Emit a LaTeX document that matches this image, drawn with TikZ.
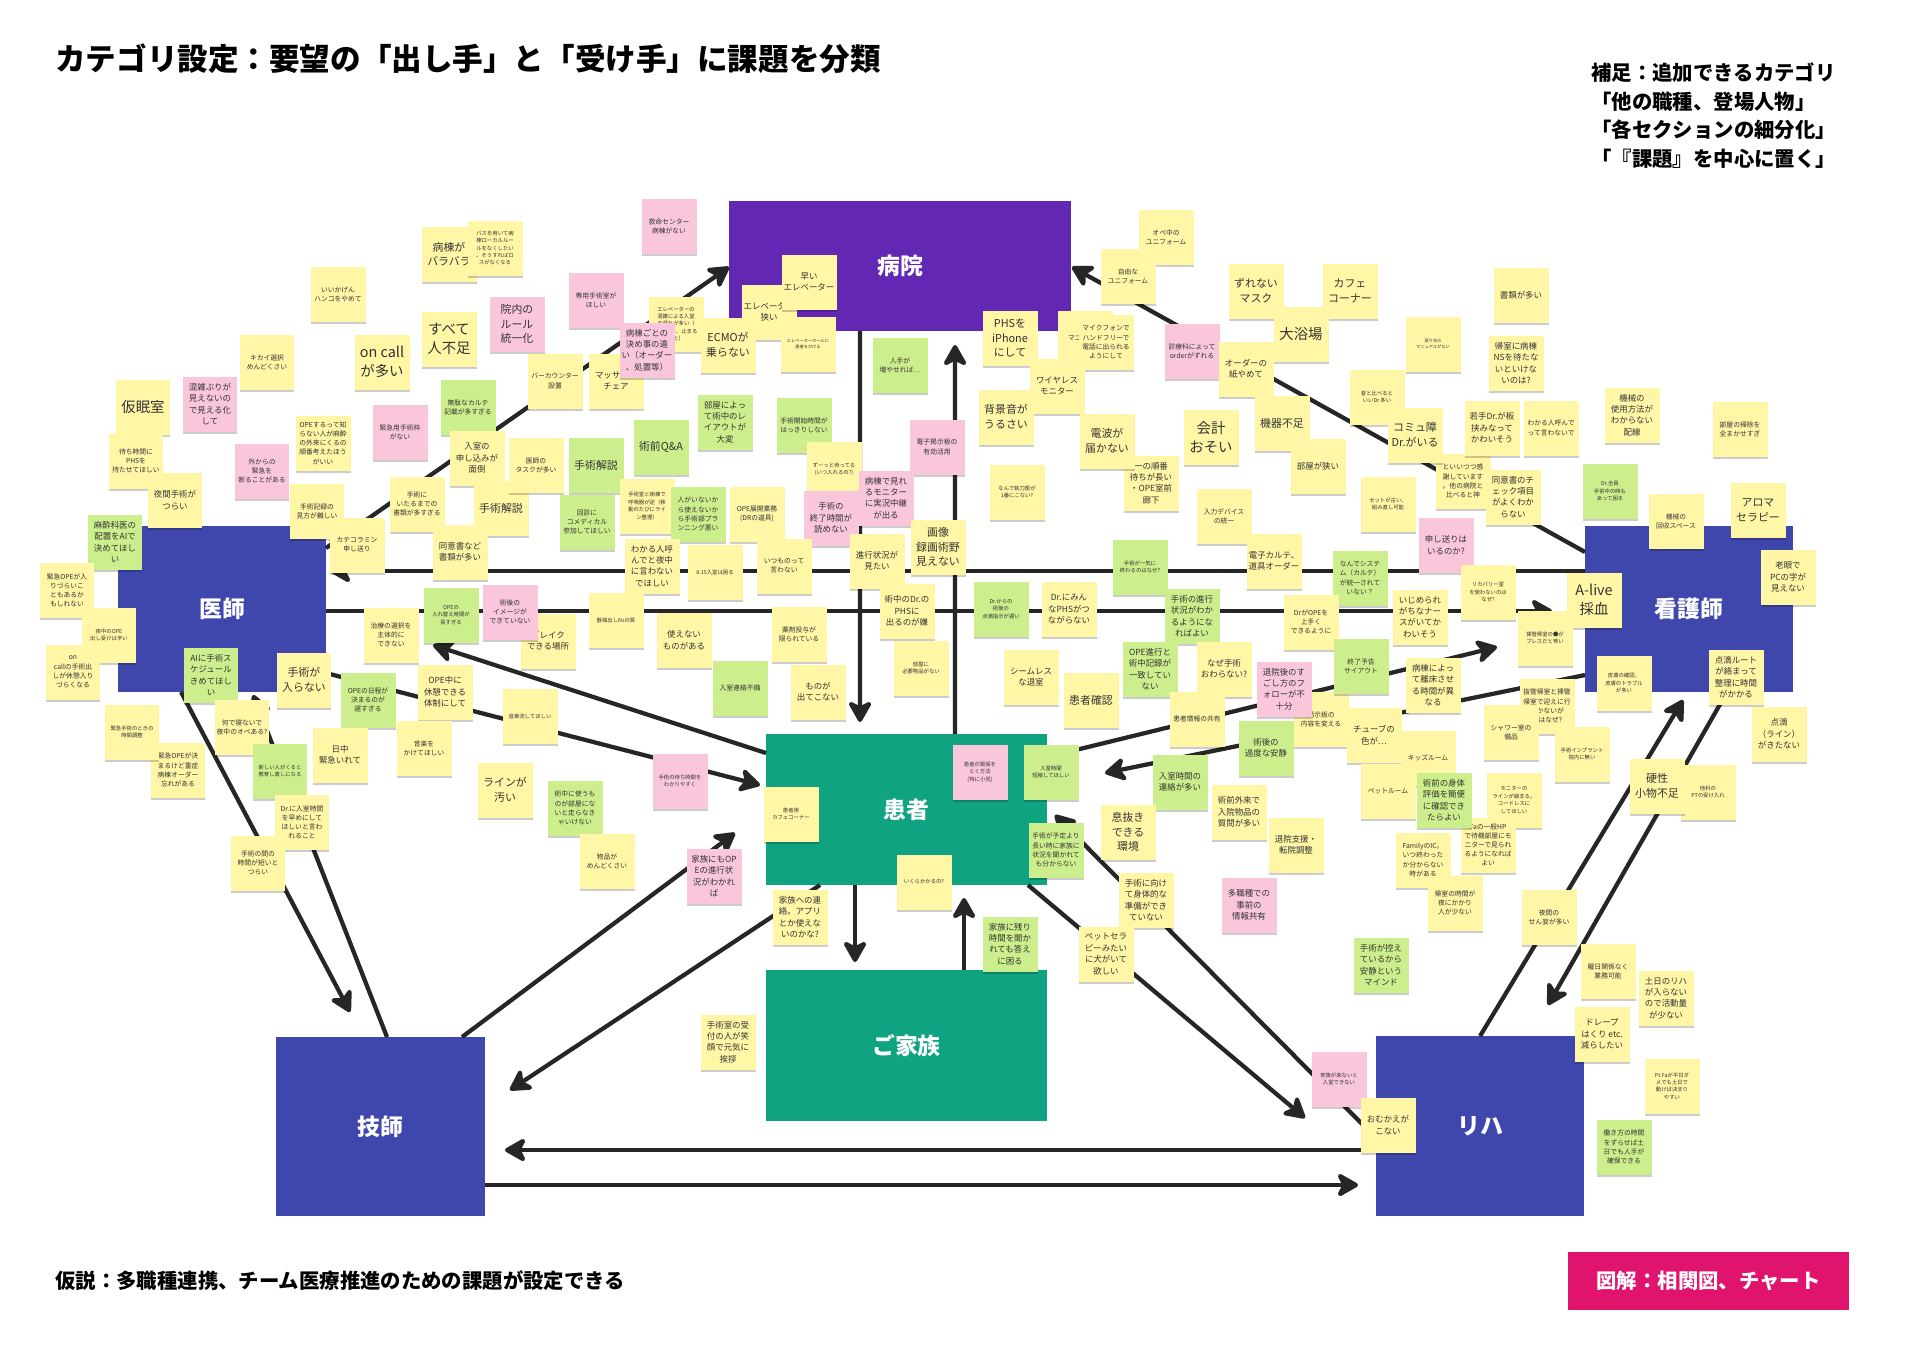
\documentclass[tikz,border=0pt]{standalone}
\usepackage{fontspec}
\setmainfont{Noto Sans CJK JP}
\usetikzlibrary{arrows.meta, calc, shadows}
\definecolor{hospPurple}{HTML}{6228B4}
\definecolor{roleBlue}{HTML}{3F47AD}
\definecolor{caseGreen}{HTML}{0FA382}
\definecolor{zukaiPink}{HTML}{E0136D}
\definecolor{lineGrey}{HTML}{262626}
\definecolor{noteY}{HTML}{FFF6A6}
\definecolor{noteG}{HTML}{CDEE8C}
\definecolor{noteP}{HTML}{F9C6DB}
\definecolor{noteInk}{HTML}{333333}
\tikzset{
  % one unit is one pixel of the board
  catbox/.style = {inner sep=0pt, outer sep=0pt, text=white,
                   font=\fontsize{13}{15}\selectfont\bfseries},
  link/.style   = {-{Stealth[length=0.5cm, width=0.56cm, inset=0.14cm, round]},
                   line width=0.085cm, lineGrey},
  sticky/.style = {fill=#1, minimum width=1.1cm, minimum height=1.1cm,
                   inner sep=0.5pt, outer sep=0pt, align=center, text=noteInk,
                   drop shadow={shadow xshift=0pt, shadow yshift=-1.2pt,
                                opacity=0.2, fill=black}},
  fA/.style = {font=\fontsize{8.2}{11}\selectfont},
  fB/.style = {font=\fontsize{6.2}{8.4}\selectfont},
  fC/.style = {font=\fontsize{4.8}{6.5}\selectfont},
  fD/.style = {font=\fontsize{3.85}{5.2}\selectfont},
  fE/.style = {font=\fontsize{3.05}{4.2}\selectfont},
  fF/.style = {font=\fontsize{2.4}{3.3}\selectfont},
}

\begin{document}
\begin{tikzpicture}[x=0.02cm, y=-0.02cm]
  \useasboundingbox (0,0) rectangle (1909,1350);
  \fill[white] (0,0) rectangle (1909,1350);

  % the seven categories
  \node[catbox, fill=hospPurple, minimum width=6.84cm, minimum height=2.6cm] (hosp) at (900,266) {病院};
  \node[catbox, fill=roleBlue, minimum width=4.16cm, minimum height=3.32cm] (doc) at (222,609) {医師};
  \node[catbox, fill=roleBlue, minimum width=4.16cm, minimum height=3.32cm] (nurse) at (1689,609) {看護師};
  \node[catbox, fill=caseGreen, minimum width=5.62cm, minimum height=3.02cm] (pat) at (906.5,809.5) {患者};
  \node[catbox, fill=caseGreen, minimum width=5.62cm, minimum height=3.02cm] (fam) at (906.5,1045.5) {ご家族};
  \node[catbox, fill=roleBlue, minimum width=4.18cm, minimum height=3.58cm] (tech) at (380.5,1126.5) {技師};
  \node[catbox, fill=roleBlue, minimum width=4.16cm, minimum height=3.6cm] (reha) at (1480,1126) {リハ};

  % free ends of three connectors
  \coordinate (docIn) at (433,645);
  \coordinate (nurseIn) at (1497,647);
  \coordinate (rehaIn) at (1305,1118);

  % who asks whom
  \draw[link] ($(doc.north east)+(0,22)$) -- ($(hosp.north west)+(0,66)$);
  \draw[link] ($(nurse.north west)+(0,26)$) -- ($(hosp.north east)+(1,66)$);
  \draw[link] ($(hosp.south west)+(131,0)$) -- ($(pat.north west)+(94,-12)$);
  \draw[link] ($(pat.north west)+(189,0)$) -- ($(hosp.south west)+(226,14)$);
  \draw[link] ($(nurse.north west)+(0,45)$) -- ($(doc.north east)+(4,45)$);
  \draw[link] ($(doc.north east)+(0,85)$) -- ($(nurse.north west)+(-33,85)$);
  \draw[link] ($(pat.north west)+(0,19)$) -- (docIn);
  \draw[link] ($(doc.north east)+(0,147)$) -- ($(pat.north west)+(-6,51)$);
  \draw[link] ($(nurse.north west)+(0,149)$) -- ($(pat.north east)+(58,39)$);
  \draw[link] ($(pat.north east)+(0,23)$) -- (nurseIn);
  \draw[link] ($(doc.south west)+(63,0)$) -- ($(tech.north west)+(74,-25)$);
  \draw[link] ($(tech.north west)+(111,0)$) -- ($(doc.south west)+(135,3)$);
  \draw[link] ($(pat.south west)+(54,0)$) -- ($(tech.north east)+(25,53)$);
  \draw[link] ($(tech.north west)+(186,0)$) -- ($(pat.south west)+(-31,-52)$);
  \draw[link] ($(pat.south east)+(-19,0)$) -- (rehaIn);
  \draw[link] ($(reha.north west)+(0,102)$) -- ($(pat.north east)+(8,81)$);
  \draw[link] ($(reha.north west)+(104,0)$) -- ($(nurse.south west)+(98,8)$);
  \draw[link] ($(nurse.south west)+(142,0)$) -- ($(reha.north west)+(172,-31)$);
  \draw[link] ($(pat.south west)+(89,0)$) -- ($(fam.north west)+(89,-8)$);
  \draw[link] ($(fam.north west)+(198,0)$) -- ($(pat.south west)+(198,13)$);
  \draw[link] ($(reha.north west)+(0,114)$) -- ($(tech.north east)+(20,113)$);
  \draw[link] ($(tech.north east)+(0,148)$) -- ($(reha.north west)+(-18,149)$);

  % notes, top left
  \foreach \nx/\ny/\ncol/\nfs/\ntxt [count=\i] in {
    449/254/noteY/fB/{病棟が\\バラバラ},
    495/248/noteY/fE/{バスを用いて病\\棟ローカルルー\\ルをなくしたい\\。そうすればロ\\スがなくなる},
    338/294/noteY/fD/{いいかげん\\ハンコをやめて},
    449/339/noteY/fA/{すべて\\人不足},
    517/324/noteP/fB/{院内の\\ルール\\統一化},
    382/362/noteY/fA/{on call\\が多い},
    267/362/noteY/fD/{キカイ選択\\めんどくさい},
    143/407/noteY/fA/{仮眠室},
    210/404/noteP/fC/{混雑ぶりが\\見えないの\\で見える化\\して},
    468/407/noteG/fD/{無駄なカルテ\\記載が多すぎる},
    400/432/noteP/fD/{緊急用手術枠\\がない},
    323/443/noteY/fD/{OPEするって知\\らない人が麻酔\\の外来にくるの\\順番考えたほう\\がいい},
    136/461/noteY/fD/{待ち時間に\\PHSを\\持たせてほしい},
    262/471/noteP/fD/{外からの\\緊急を\\断ることがある},
    477/458/noteY/fC/{入室の\\申し込みが\\面倒},
    175/500/noteY/fC/{夜間手術が\\つらい},
    317/511/noteY/fD/{手術記録の\\見方が難しい},
    417/504/noteY/fD/{手術に\\いたるまでの\\書類が多すぎる},
    501/508/noteY/fB/{手術解説},
    115/542/noteG/fC/{麻酔科医の\\配置をAIで\\決めてほし\\い},
    357/545/noteY/fD/{カテコラミン\\申し送り},
    460/552/noteY/fC/{同意書など\\書類が多い}}
    \node[sticky=\ncol, \nfs] (tl\i) at (\nx,\ny) {\ntxt};

  % notes round 病院, left and below
  \foreach \nx/\ny/\ncol/\nfs/\ntxt [count=\i] in {
    669/226/noteP/fD/{救命センター\\病棟がない},
    596/300/noteP/fD/{専用手術室が\\ほしい},
    555/381/noteY/fD/{バーカウンター\\設置},
    616/381/noteY/fC/{マッサージ\\チェア},
    676/324/noteY/fE/{エレベーターの\\混雑による入室\\の遅れが多い（\\オーダー、止まる\\こと）},
    647/350/noteP/fC/{病棟ごとの\\決め事の違\\い（オーダー\\、処置等）},
    769/312/noteY/fC/{エレベーター\\狭い},
    809/282/noteY/fC/{早い\\エレベーター},
    808/344/noteY/fF/{エレベーターホールに\\患者をかける},
    728/345/noteY/fB/{ECMOが\\乗らない},
    900/365/noteG/fD/{人手が\\増やせれば…},
    536/465/noteY/fD/{医師の\\タスクが多い},
    725/422/noteG/fC/{部屋によっ\\て術中のレ\\イアウトが\\大変},
    804/425/noteG/fD/{手術開始時間が\\はっきりしない},
    661/447/noteG/fB/{術前Q\&A},
    596/465/noteG/fB/{手術解説},
    937/447/noteP/fD/{電子掲示板の\\有効活用},
    834/469/noteY/fE/{ずーっと待ってる\\(いつ入れるの?)},
    647/506/noteY/fE/{手術室と病棟で\\呼吸器が逆（移\\動のたびにライ\\ン整理）},
    587/522/noteG/fD/{回診に\\コメディカル\\参加してほしい},
    698/514/noteG/fD/{人がいないか\\ら使えないか\\ら手術部プラ\\ンニング悪い},
    757/514/noteY/fD/{OPE展開業務\\(DRの道具)},
    886/498/noteP/fC/{病棟で見れ\\るモニター\\に実況中継\\が出る},
    831/518/noteP/fC/{手術の\\終了時間が\\読めない},
    938/547/noteY/fB/{画像\\録画術野\\見えない},
    877/561/noteY/fC/{進行状況が\\見たい}}
    \node[sticky=\ncol, \nfs] (tc\i) at (\nx,\ny) {\ntxt};

  % notes right of 病院
  \foreach \nx/\ny/\ncol/\nfs/\ntxt [count=\i] in {
    1166/237/noteY/fD/{オペ中の\\ユニフォーム},
    1128/276/noteY/fD/{自由な\\ユニフォーム},
    1256/291/noteY/fB/{ずれない\\マスク},
    1350/291/noteY/fB/{カフェ\\コーナー},
    1301/334/noteY/fA/{大浴場},
    1010/338/noteY/fB/{PHSを\\iPhone\\にして},
    1085/338/noteY/fD/{マニュアル},
    1106/342/noteY/fD/{マイクフォンで\\ハンドフリーで\\電話に出られる\\ようにして},
    1057/386/noteY/fC/{ワイヤレス\\モニター},
    1192/351/noteP/fD/{診療科によって\\orderがずれる},
    1246/369/noteY/fC/{オーダーの\\紙やめて},
    1433/344/noteY/fF/{戻り先の\\マニュアルがない},
    1006/417/noteY/fB/{背景音が\\うるさい},
    1151/483/noteY/fC/{一の順番\\待ちが長い\\・OPE室前\\廊下},
    1107/441/noteY/fB/{電波が\\届かない},
    1211/437/noteY/fA/{会計\\おそい},
    1282/423/noteY/fB/{機器不足},
    1377/397/noteY/fE/{昔と比べると\\いいDr.多い},
    1463/481/noteY/fD/{といいつつ感\\謝しています\\。他の病院と\\比べると神},
    1415/435/noteY/fB/{コミュ障\\Dr.がいる},
    1318/466/noteY/fC/{部屋が狭い},
    1017/492/noteY/fE/{なんで執刀医が\\1番にこない?},
    1224/516/noteY/fD/{入力デバイス\\の統一},
    1388/504/noteY/fE/{セットが古い、\\組み直し可能},
    1446/545/noteP/fC/{申し送りは\\いるのか?},
    1274/561/noteY/fC/{電子カルテ、\\道具オーダー},
    1360/578/noteG/fD/{なんでシステ\\ム（カルテ）\\が統一されて\\いない？},
    1140/567/noteG/fE/{手術が一気に\\終わるのはなぜ?},
    1488/592/noteY/fE/{リカバリー室\\を使わないのは\\なぜ?}}
    \node[sticky=\ncol, \nfs] (tr\i) at (\nx,\ny) {\ntxt};

  % notes round 看護師
  \foreach \nx/\ny/\ncol/\nfs/\ntxt [count=\i] in {
    1521/295/noteY/fC/{書類が多い},
    1516/363/noteY/fC/{帰室に病棟\\NSを待たな\\いといけな\\いのは?},
    1492/428/noteY/fC/{若手Dr.が板\\挟みなって\\かわいそう},
    1551/428/noteY/fD/{わかる人呼んで\\って言わないで},
    1632/415/noteY/fC/{機械の\\使用方法が\\わからない\\配線},
    1740/429/noteY/fD/{部屋の掃除を\\全まかせすぎ},
    1513/497/noteY/fC/{同意書のチ\\ェック項目\\がよくわか\\らない},
    1610/491/noteG/fE/{Dr.全員\\手術中の時も\\あって困る},
    1676/521/noteY/fD/{機械の\\回収スペース},
    1758/510/noteY/fB/{アロマ\\セラピー},
    1788/577/noteY/fC/{老眼で\\PCの字が\\見えない},
    1594/600/noteY/fA/{A-live\\採血}}
    \node[sticky=\ncol, \nfs] (nr\i) at (\nx,\ny) {\ntxt};

  % notes round 医師
  \foreach \nx/\ny/\ncol/\nfs/\ntxt [count=\i] in {
    67/590/noteY/fD/{緊急OPEが入\\りづらいこ\\ともあるか\\もしれない},
    109/635/noteY/fE/{夜中のOPE\\出し受けは辛い},
    73/672/noteY/fD/{on\\callの手術出\\しが休憩入り\\づらくなる},
    211/675/noteG/fC/{AIに手術ス\\ケジュール\\きめてほし\\い},
    304/680/noteY/fB/{手術が\\入らない},
    368/700/noteG/fD/{OPEの日程が\\決まるのが\\遅すぎる},
    445/692/noteY/fC/{OPE中に\\休憩できる\\体制にして},
    391/635/noteY/fD/{治療の選択を\\主体的に\\できない},
    451/615/noteG/fE/{OPEの\\入れ替え時間が\\長すぎる},
    548/641/noteY/fC/{ブレイク\\できる場所},
    510/612/noteP/fD/{術後の\\イメージが\\できていない},
    178/770/noteY/fD/{緊急OPEが決\\まるけど重症\\病棟オーダー\\忘れがある},
    132/732/noteY/fE/{緊急手術のときの\\時間調整},
    242/727/noteY/fD/{何で寝ないで\\夜中のオペある?},
    280/771/noteG/fE/{新しい人がくると\\教育し直しになる},
    340/755/noteY/fC/{日中\\緊急いれて},
    424/748/noteY/fD/{音楽を\\かけてほしい},
    505/790/noteY/fB/{ラインが\\汚い},
    302/822/noteY/fD/{Dr.に入室時間\\を早めにして\\ほしいと言わ\\れること},
    258/863/noteY/fD/{手術の間の\\時間が短いと\\つらい}}
    \node[sticky=\ncol, \nfs] (dl\i) at (\nx,\ny) {\ntxt};

  % notes above and left of 患者
  \foreach \nx/\ny/\ncol/\nfs/\ntxt [count=\i] in {
    652/566/noteY/fC/{わかる人呼\\んでと夜中\\に言わない\\でほしい},
    715/572/noteY/fE/{8:15入室は困る},
    784/566/noteY/fD/{いつものって\\言わない},
    616/620/noteY/fE/{器械出しNsの質},
    684/640/noteY/fC/{使えない\\ものがある},
    799/634/noteY/fD/{薬剤投与が\\限られている},
    907/611/noteY/fC/{術中のDr.の\\PHSに\\出るのが嫌},
    921/668/noteY/fE/{部屋に\\必要物品がない},
    740/688/noteG/fD/{入室連絡不備},
    818/692/noteY/fC/{ものが\\出てこない},
    530/716/noteY/fE/{音楽流してほしい},
    680/781/noteP/fE/{手術の待ち時間を\\わかりやすく},
    575/808/noteG/fD/{術中に使うも\\のが部屋にな\\いと走らなき\\ゃいけない},
    607/861/noteY/fD/{物品が\\めんどくさい},
    714/876/noteP/fC/{家族にもOP\\Eの進行状\\況がわかれ\\ば},
    791/814/noteY/fE/{患者用\\カフェコーナー},
    924/882/noteY/fE/{いくらかかるの?},
    980/772/noteP/fE/{患者の緊張を\\とく方法\\(特に小児)}}
    \node[sticky=\ncol, \nfs] (md\i) at (\nx,\ny) {\ntxt};

  % notes right of 患者
  \foreach \nx/\ny/\ncol/\nfs/\ntxt [count=\i] in {
    1001/609/noteG/fE/{Dr.からの\\術後の\\点滴指示が遅い},
    1069/609/noteY/fC/{Dr.にみん\\なPHSがつ\\ながらない},
    1192/616/noteG/fC/{手術の進行\\状況がわか\\るようにな\\ればよい},
    1311/622/noteY/fD/{DrがOPEを\\上手く\\できるように},
    1420/617/noteY/fC/{いじめられ\\がちなナー\\スがいてか\\わいそう},
    1031/677/noteY/fC/{シームレス\\な退室},
    1091/700/noteY/fB/{患者確認},
    1150/669/noteG/fC/{OPE進行と\\術中記録が\\一致してい\\ない},
    1224/669/noteY/fC/{なぜ手術\\おわらない?},
    1197/719/noteY/fD/{患者情報の共有},
    1321/719/noteY/fD/{掲示板の\\内容を変える},
    1284/689/noteP/fC/{退院後のす\\ごし方のフ\\ォローが不\\十分},
    1361/666/noteG/fD/{終了予告\\サイアウト},
    1374/735/noteY/fC/{チューブの\\色が…},
    1433/685/noteY/fC/{病棟によっ\\て離床させ\\る時間が異\\なる},
    1266/748/noteG/fC/{術後の\\過度な安静},
    1051/772/noteG/fE/{入室時間\\短縮してほしい},
    1180/782/noteG/fC/{入室時間の\\連絡が多い},
    1128/832/noteY/fB/{息抜き\\できる\\環境},
    1239/812/noteY/fC/{術前外来で\\入院物品の\\質問が多い},
    1296/845/noteY/fC/{退院支援・\\転院調整},
    1056/850/noteG/fD/{手術が予定より\\長い時に家族に\\状況を聞かれて\\も分からない},
    1146/900/noteY/fC/{手術に向け\\て身体的な\\準備ができ\\ていない},
    1249/905/noteP/fC/{多職種での\\事前の\\情報共有}}
    \node[sticky=\ncol, \nfs] (rt\i) at (\nx,\ny) {\ntxt};

  % notes lower right, towards リハ
  \foreach \nx/\ny/\ncol/\nfs/\ntxt [count=\i] in {
    1428/758/noteY/fD/{キッズルーム},
    1388/791/noteY/fD/{ペットルーム},
    1514/800/noteY/fE/{モニターの\\ラインが絡まる。\\コードレスに\\してほしい},
    1488/845/noteY/fD/{Faの一般HP\\で待機部屋にモ\\ニターで見られ\\るようになれば\\よい},
    1444/800/noteG/fC/{術前の身体\\評価を簡便\\に確認でき\\たらよい},
    1423/860/noteY/fD/{FamilyのIC。\\いつ終わった\\か分からない\\時がある},
    1455/903/noteY/fD/{帰室の時間が\\夜にかかり\\人が少ない},
    1381/965/noteG/fC/{手術が控え\\ているから\\安静という\\マインド},
    1547/706/noteY/fD/{抜管帰室と挿管\\帰室で迎えに行\\行かないが\\のはなぜ?},
    1511/732/noteY/fD/{シャワー室の\\備品},
    1545/638/noteY/fE/{挿管帰室の●が\\ブレスだと怖い},
    1582/754/noteY/fE/{手術インプラント\\院内に無い},
    1624/683/noteY/fE/{皮膚の確認。\\皮膚のトラブル\\が多い},
    1736/677/noteY/fC/{点滴ルート\\が絡まって\\整理に時間\\がかかる},
    1779/734/noteY/fC/{点滴\\（ライン）\\がきたない},
    1708/792/noteY/fE/{他科の\\PTの受け入れ},
    1657/786/noteY/fB/{硬性\\小物不足},
    1549/917/noteY/fD/{夜間の\\せん妄が多い},
    1608/971/noteY/fD/{曜日関係なく\\業務可能},
    1666/998/noteY/fC/{土日のリハ\\が入らない\\ので活動量\\が少ない},
    1602/1034/noteY/fC/{ドレープ\\はくり etc.\\減らしたい},
    1672/1086/noteY/fE/{Pt.Faが平日ダ\\メでも土日で\\動けば決まり\\やすい},
    1624/1147/noteG/fD/{働き方の時間\\をずらせば土\\日でも人手が\\確保できる},
    1339/1079/noteP/fE/{家族が来ないと\\入室できない},
    1388/1125/noteY/fC/{おむかえが\\こない}}
    \node[sticky=\ncol, \nfs] (lr\i) at (\nx,\ny) {\ntxt};

  % notes round ご家族
  \foreach \nx/\ny/\ncol/\nfs/\ntxt [count=\i] in {
    800/917/noteY/fC/{家族への連\\絡。アプリ\\とか使えな\\いのかな?},
    1010/944/noteG/fC/{家族に残り\\時間を聞か\\れても答え\\に困る},
    1106/954/noteY/fC/{ペットセラ\\ピーみたい\\に犬がいて\\欲しい},
    728/1042/noteY/fC/{手術室の受\\付の人が笑\\顔で元気に\\挨拶}}
    \node[sticky=\ncol, \nfs] (fm\i) at (\nx,\ny) {\ntxt};

  % headings
  \node[anchor=west, inner sep=0pt, font=\fontsize{17.4}{20}\selectfont\bfseries] (title) at (55,59)
    {カテゴリ設定：要望の「出し手」と「受け手」に課題を分類};
  \node[anchor=north west, inner sep=0pt, align=left, font=\fontsize{11.6}{16.4}\selectfont\bfseries] (hint) at (1591,62)
    {補足：追加できるカテゴリ\\「他の職種、登場人物」\\「各セクションの細分化」\\「『課題』を中心に置く」};
  \node[anchor=west, inner sep=0pt, font=\fontsize{11.6}{14}\selectfont\bfseries] (hypo) at (55,1281)
    {仮説：多職種連携、チーム医療推進のための課題が設定できる};
  \node[fill=zukaiPink, text=white, minimum width=5.62cm, minimum height=1.16cm, inner sep=0pt,
        font=\fontsize{11.6}{14}\selectfont\bfseries] (zukai) at (1708.5,1281) {図解：相関図、チャート};
\end{tikzpicture}
\end{document}
